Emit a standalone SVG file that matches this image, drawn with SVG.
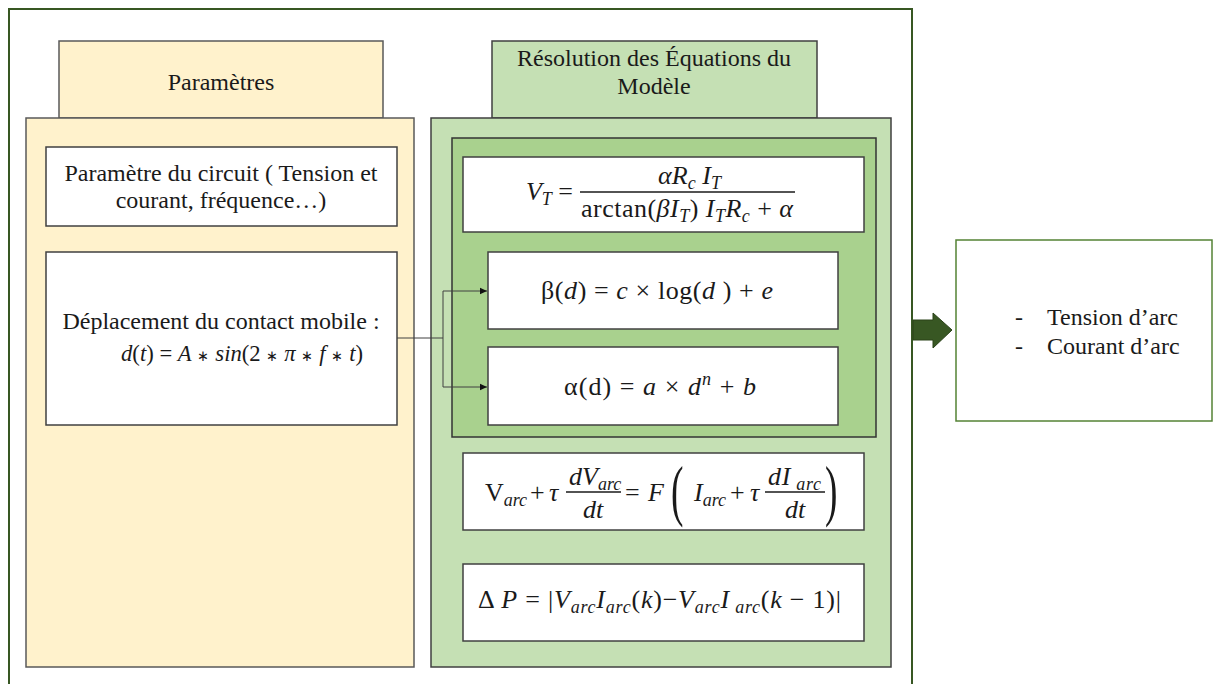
<svg xmlns="http://www.w3.org/2000/svg" width="1214" height="684" viewBox="0 0 1214 684">
<style>
.t{font-family:"Liberation Serif","Times New Roman",serif;fill:#1a1a1a;font-size:24px}
.m{font-family:"Liberation Serif","Times New Roman",serif;fill:#1a1a1a;font-size:26px}
.i{font-style:italic}
.s{font-style:italic;font-size:18px}
.st{font-size:15px}
.par{font-family:"Liberation Serif","Times New Roman",serif;fill:#1a1a1a;font-size:68px}
.box{fill:#ffffff;stroke:#404040;stroke-width:1.5}
.ylw{fill:#FFF2CC;stroke:#595959;stroke-width:1.5}
.lg{fill:#C5E0B4;stroke:#404040;stroke-width:1.5}
.dg{fill:#A9D18E;stroke:#333333;stroke-width:1.5}
.bar{stroke:#1a1a1a;stroke-width:1.3}
.con{fill:none;stroke:#404040;stroke-width:1}
</style>
<defs>
<marker id="ah" markerWidth="8" markerHeight="8" refX="7" refY="4" orient="auto" markerUnits="userSpaceOnUse">
<path d="M0,0.8 L7,4 L0,7.2 Z" fill="#111"/>
</marker>
</defs>
<rect width="1214" height="684" fill="#ffffff"/>
<g id="frame">
<path d="M9,684 V9 H912 V684" fill="none" stroke="#385723" stroke-width="2"/>
</g>
<g id="parametres">
<rect class="ylw" x="59" y="41" width="324" height="77"/>
<rect class="ylw" x="26" y="118" width="388" height="549"/>
<text class="t" x="221" y="90" text-anchor="middle">Paramètres</text>
</g>
<g id="circuit">
<rect class="box" x="46" y="147" width="351" height="79"/>
<text class="t" x="221" y="181" text-anchor="middle">Paramètre du circuit ( Tension et</text>
<text class="t" x="221" y="208" text-anchor="middle">courant, fréquence…)</text>
</g>
<g id="deplacement">
<rect class="box" x="46" y="252" width="351" height="173"/>
<text class="t" x="221" y="329" text-anchor="middle">Déplacement du contact mobile :</text>
<text class="m" x="121" y="361" style="font-size:24px" textLength="242" lengthAdjust="spacingAndGlyphs"><tspan class="i">d</tspan>(<tspan class="i">t</tspan>) = <tspan class="i">A</tspan> <tspan class="st">∗</tspan> <tspan class="i">sin</tspan>(2 <tspan class="st">∗</tspan> <tspan class="i">π</tspan> <tspan class="st">∗</tspan> <tspan class="i">f</tspan> <tspan class="st">∗</tspan> <tspan class="i">t</tspan>)</text>
</g>
<g id="resolution">
<rect class="lg" x="492" y="41" width="325" height="77"/>
<rect class="lg" x="431" y="118" width="460" height="549"/>
<text class="t" x="654" y="66" text-anchor="middle">Résolution des Équations du</text>
<text class="t" x="654" y="94" text-anchor="middle">Modèle</text>
</g>
<g id="modele">
<rect class="dg" x="452" y="138" width="424" height="299"/>
</g>
<g id="vt">
<rect class="box" x="463" y="157" width="401" height="75"/>
<text class="m" x="526" y="200" textLength="47"><tspan class="i">V</tspan><tspan class="s" dy="5">T</tspan><tspan dy="-5"> =</tspan></text>
<line class="bar" x1="580" y1="192" x2="795" y2="192"/>
<text class="m" x="658" y="184" textLength="63"><tspan class="i">αR</tspan><tspan class="s" dy="5">c</tspan><tspan class="i" dy="-5"> I</tspan><tspan class="s" dy="5">T</tspan></text>
<text class="m" x="581" y="217" textLength="212">arctan(<tspan class="i">βI</tspan><tspan class="s" dy="5">T</tspan><tspan dy="-5">) </tspan><tspan class="i">I</tspan><tspan class="s" dy="5">T</tspan><tspan class="i" dy="-5">R</tspan><tspan class="s" dy="5">c</tspan><tspan dy="-5"> + </tspan><tspan class="i">α</tspan></text>
</g>
<g id="beta">
<rect class="box" x="488" y="252" width="350" height="77"/>
<text class="m" x="541" y="299" textLength="232">β(<tspan class="i">d</tspan>) = <tspan class="i">c</tspan> × log(<tspan class="i">d</tspan> ) + <tspan class="i">e</tspan></text>
</g>
<g id="alpha">
<rect class="box" x="488" y="347" width="350" height="78"/>
<text class="m" x="564" y="395" textLength="192">α(d) = <tspan class="i">a</tspan> × <tspan class="i">d</tspan><tspan class="s" dy="-10">n</tspan><tspan dy="10"> + </tspan><tspan class="i">b</tspan></text>
</g>
<g id="varc">
<rect class="box" x="463" y="453" width="401" height="77"/>
<text class="m" x="485" y="501">V<tspan class="s" dy="5">arc</tspan></text>
<text class="m" x="530" y="501">+</text>
<text class="m i" x="549" y="501">τ</text>
<line class="bar" x1="566" y1="492" x2="621" y2="492"/>
<text class="m" x="569" y="485"><tspan class="i">dV</tspan><tspan class="s" dy="5">arc</tspan></text>
<text class="m i" x="583" y="518">dt</text>
<text class="m" x="625" y="501">=</text>
<text class="m i" x="648" y="501">F</text>
<text class="par" x="671" y="513" transform="translate(671 0) scale(0.55 1) translate(-671 0)">(</text>
<text class="m" x="694" y="501"><tspan class="i">I</tspan><tspan class="s" dy="5">arc</tspan></text>
<text class="m" x="730" y="501">+</text>
<text class="m i" x="750" y="501">τ</text>
<line class="bar" x1="765" y1="492" x2="825" y2="492"/>
<text class="m" x="768" y="485" textLength="53"><tspan class="i">dI</tspan><tspan class="s" dy="5"> arc</tspan></text>
<text class="m i" x="785" y="518">dt</text>
<text class="par" x="825" y="513" transform="translate(825 0) scale(0.55 1) translate(-825 0)">)</text>
</g>
<g id="deltap">
<rect class="box" x="463" y="564" width="401" height="77"/>
<text class="m" x="478" y="608" textLength="363">Δ <tspan class="i">P</tspan> = |<tspan class="i">V</tspan><tspan class="s" dy="5">arc</tspan><tspan class="i" dy="-5">I</tspan><tspan class="s" dy="5">arc</tspan><tspan dy="-5">(</tspan><tspan class="i">k</tspan>)−<tspan class="i">V</tspan><tspan class="s" dy="5">arc</tspan><tspan class="i" dy="-5">I</tspan><tspan class="s" dy="5"> arc</tspan><tspan dy="-5">(</tspan><tspan class="i">k</tspan> − 1)|</text>
</g>
<g id="sortie">
<rect x="956" y="240" width="256" height="181" fill="#ffffff" stroke="#548235" stroke-width="1.5"/>
<text class="t" x="1015" y="325">-</text>
<text class="t" x="1047" y="325">Tension d’arc</text>
<text class="t" x="1015" y="354">-</text>
<text class="t" x="1047" y="354">Courant d’arc</text>
</g>
<g id="connectors">
<path class="con" d="M397,338 H443 M443,291 V387 M443,291 H487" marker-end="url(#ah)"/>
<path class="con" d="M443,387 H487" marker-end="url(#ah)"/>
<path d="M913,320 H933 V313 L952,330 L933,348 V340 H913 Z" fill="#385723" stroke="#2a4219" stroke-width="1"/>
</g>
</svg>
